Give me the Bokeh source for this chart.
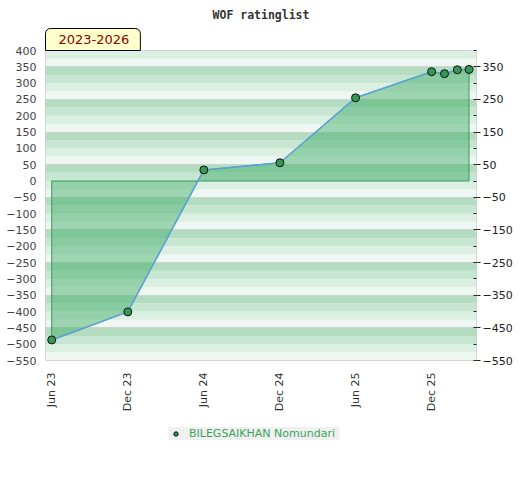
import numpy as np
import pandas as pd
from bokeh.plotting import figure
from bokeh.layouts import column
from bokeh.models import (LinearAxis, FixedTicker, DatetimeTickFormatter, Range1d,
                          Title, Legend, LegendItem)
from bokeh.embed import file_html
from bokeh.resources import INLINE

title_text = "WOF ratinglist"
period_text = "2023-2026"
player = "BILEGSAIKHAN Nomundari"
dates = ["2023-06-01", "2023-12-01", "2024-06-01", "2024-12-01", "2025-06-01",
         "2025-12-01", "2026-01-01", "2026-02-01", "2026-03-01"]
values = [-487, -401, 34, 56, 255, 335, 329, 341, 342]
tick_dates = ["2023-06-01", "2023-12-01", "2024-06-01", "2024-12-01",
              "2025-06-01", "2025-12-01"]
left_ticks = list(range(-550, 401, 50))
right_ticks = list(range(-550, 351, 100))
y_min, y_max = -550, 400

x = [pd.Timestamp(d).to_pydatetime() for d in dates]
x_start = (pd.Timestamp(dates[0]) - pd.Timedelta(days=15)).to_pydatetime()
x_end = (pd.Timestamp(dates[-1]) + pd.Timedelta(days=18)).to_pydatetime()

p = figure(frame_width=431, frame_height=310, x_axis_type="datetime",
           x_range=Range1d(x_start, x_end), y_range=Range1d(y_min, y_max),
           output_backend="svg", toolbar_location=None,
           min_border_left=37, min_border_top=42, min_border_right=36,
           min_border_bottom=58)
p.margin = (0, 0, 0, 3)
p.outline_line_color = "#cccccc"
p.grid.visible = False
p.background_fill_color = "white"

# background bands
band_colors = ["#eef7f1", "#dcefe3", "#c6e6d1", "#b3dcc1"]
bottoms = np.arange(y_min, y_max, 25)
cols = [band_colors[int((b - y_min) // 25) % 4] for b in bottoms]
p.quad(left=x_start, right=x_end, bottom=bottoms, top=bottoms + 25,
       fill_color=cols, line_color=None)
p.hspan(y=[t for t in right_ticks if t > y_min], line_color="#d2d2d2", line_width=1)

# area
xs = [x[0]] + x + [x[-1]]
ys = [0] + values + [0]
p.patch(xs, ys, fill_color="#3caa64", fill_alpha=0.45, line_color="#3a9a5a", line_width=1)
p.line(x, values, line_color="#5aa2dc", line_width=1.5)
r = p.scatter(x, values, size=8, fill_color="#339955", line_color="#111111", line_width=1)

# axes
ya = p.yaxis[0]
ya.ticker = FixedTicker(ticks=left_ticks)
ya.major_tick_out = 0
ya.major_tick_in = 0
ya.minor_tick_out = 0
ya.minor_tick_in = 0
ya.axis_line_color = None
ya.major_label_text_color = "#444444"
ya.major_label_text_font = "DejaVu Sans"
ya.major_label_text_font_size = "11px"
ya.major_label_standoff = 9

ra = LinearAxis(ticker=FixedTicker(ticks=right_ticks, minor_ticks=left_ticks))
ra.major_tick_out = 4
ra.major_tick_in = 0
ra.minor_tick_in = 3
ra.minor_tick_out = 0
ra.major_tick_line_color = "#222222"
ra.minor_tick_line_color = "#222222"
ra.axis_line_color = None
ra.major_label_text_color = "#222222"
ra.major_label_text_font = "DejaVu Sans"
ra.major_label_text_font_size = "11px"
ra.major_label_standoff = 2
p.add_layout(ra, "right")

xa = p.xaxis[0]
xa.ticker = FixedTicker(ticks=[pd.Timestamp(d).value // 10**6 for d in tick_dates])
fmt = "%b %y"
xa.formatter = DatetimeTickFormatter(days=fmt, months=fmt, years=fmt, hours=fmt)
xa.major_label_orientation = np.pi / 2
xa.major_tick_out = 0
xa.major_tick_in = 0
xa.minor_tick_out = 0
xa.minor_tick_in = 0
xa.axis_line_color = None
xa.major_label_text_color = "#333333"
xa.major_label_text_font = "DejaVu Sans"
xa.major_label_text_font_size = "11px"
xa.major_label_standoff = 12

# period box (title nearest the frame)
period = Title(text=period_text, align="left", text_font="DejaVu Sans",
               text_font_size="13px", text_font_style="normal", text_color="#8b0000",
               background_fill_color="#ffffcc", border_line_color="#000000",
               border_line_width=1, padding=dict(left=13, right=11, top=6, bottom=7),
               border_radius=dict(top_left=5, top_right=5, bottom_right=0, bottom_left=0),
               standoff=0)
p.add_layout(period, "above")

# title
p.title.text = title_text
p.title.align = "center"
p.title.text_font = "DejaVu Sans Mono"
p.title.text_font_style = "bold"
p.title.text_font_size = "11.5px"
p.title.text_color = "#333333"

# legend in a separate strip below
lg = figure(width=504, height=40, x_range=Range1d(0, 1), y_range=Range1d(0, 1),
            output_backend="svg", toolbar_location=None,
            x_axis_location=None, y_axis_location=None,
            min_border_left=0, min_border_right=0, min_border_top=0, min_border_bottom=0)
lg.outline_line_color = None
lg.grid.visible = False
lr = lg.scatter(x=[-10], y=[-10], size=8, fill_color="#339955", line_color="#111111",
                line_width=1)
legend = Legend(items=[LegendItem(label=player, renderers=[lr])], location="top_center",
                orientation="horizontal", background_fill_color="#f0f0f0",
                background_fill_alpha=1.0,
                border_line_color=None, label_text_color="#3aa55a",
                label_text_font="DejaVu Sans", label_text_font_size="11px",
                glyph_width=14, glyph_height=11, label_height=11, label_width=150,
                label_standoff=7, padding=4, margin=9)
lg.add_layout(legend)

open("out.html", "w").write(file_html(column(p, lg, spacing=0), INLINE))
